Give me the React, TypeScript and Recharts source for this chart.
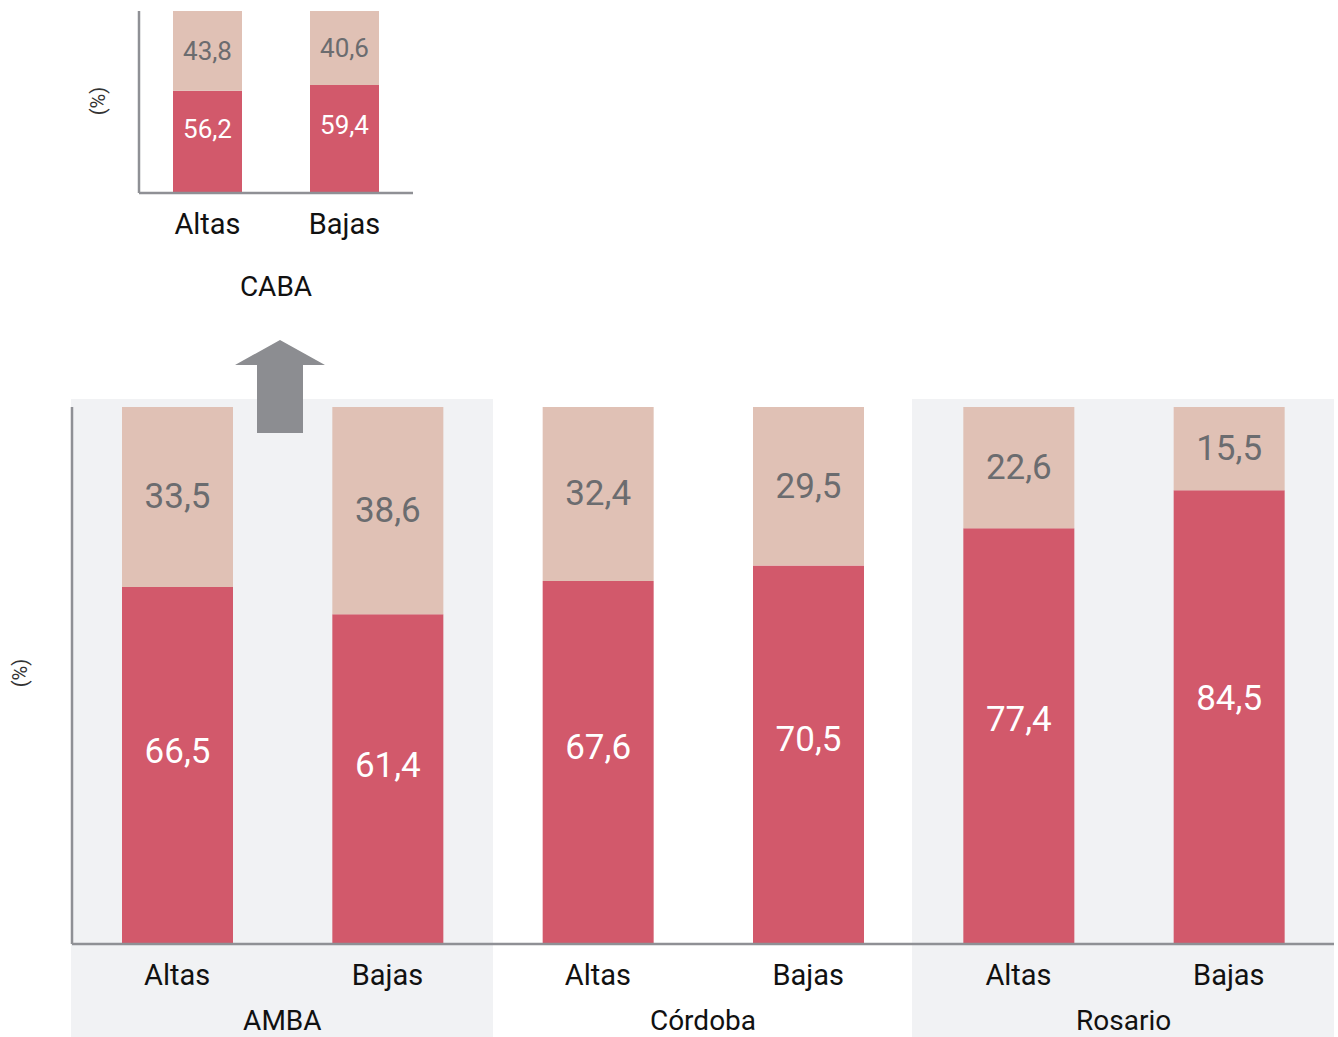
import React from 'react';
import { BarChart, Bar, XAxis, YAxis, LabelList } from 'recharts';

const categories = ['Altas', 'Bajas', 'Altas', 'Bajas', 'Altas', 'Bajas'];
const regions = ['AMBA', 'AMBA', 'Córdoba', 'Córdoba', 'Rosario', 'Rosario'];
const redValues = [66.5, 61.4, 67.6, 70.5, 77.4, 84.5];
const lightValues = [33.5, 38.6, 32.4, 29.5, 22.6, 15.5];

const cabaCategories = ['Altas', 'Bajas'];
const cabaRegion = 'CABA';
const cabaRed = [56.2, 59.4];
const cabaLight = [43.8, 40.6];

const RED = '#D2596B';
const LIGHT = '#E0C1B5';
const BG = '#F1F2F4';
const AXIS = '#8F9095';
const VALUE_GRAY = '#6B6C6F';
const FONT = 'Roboto, "Open Sans", sans-serif';

const mainData = categories.map((c, i) => ({
  key: `${regions[i]}-${c}`,
  cat: c,
  region: regions[i],
  red: redValues[i],
  light: lightValues[i],
}));

const cabaData = cabaCategories.map((c, i) => ({
  key: `${cabaRegion}-${c}`,
  cat: c,
  region: cabaRegion,
  red: cabaRed[i],
  light: cabaLight[i],
}));

const fmt = (v: any) => String(v).replace('.', ',');

// x axis keeps its default 30px height, so bottom margins are reduced by that
const MAIN_W = 1338;
const MAIN_H = 1037;
const MAIN_MARGIN = { top: 407, right: 4, bottom: 63, left: 71 };
const MAIN_BAND = (MAIN_W - 72 - MAIN_MARGIN.right) / categories.length;

const CABA_W = 420;
const CABA_H = 310;
const CABA_MARGIN = { top: 11, right: 7, bottom: 87, left: 138 };
const CABA_BAND = (CABA_W - 139 - CABA_MARGIN.right) / cabaCategories.length;

const makeTick = (rows: typeof mainData, band: number, catDy: number, groupDy: number) => (props: any) => {
  const { x, y, index } = props;
  const row = rows[index];
  const showGroup = rows.length === 2 ? index === 0 : index % 2 === 0;
  return (
    <g>
      <text x={x} y={y + catDy} textAnchor="middle" fontSize={29} fill="#111" fontFamily={FONT}>
        {row.cat}
      </text>
      {showGroup && (
        <text x={x + band / 2} y={y + groupDy} textAnchor="middle" fontSize={28} fill="#111" fontFamily={FONT}>
          {row.region}
        </text>
      )}
    </g>
  );
};

// value label placed at a fraction of the segment height
const makeValueLabel = (frac: number, color: string, size: number) => (props: any) => {
  const { x, y, width, height, value } = props;
  return (
    <text
      x={x + width / 2}
      y={y + height * frac}
      textAnchor="middle"
      dominantBaseline="central"
      fill={color}
      fontSize={size}
      fontFamily={FONT}
    >
      {fmt(value)}
    </text>
  );
};

const PctLabel: React.FC<{ left: number; top: number }> = ({ left, top }) => (
  <div
    style={{
      position: 'absolute',
      left,
      top,
      transform: 'translate(-50%, -50%) rotate(-90deg)',
      fontSize: 20,
      color: '#333',
      fontFamily: FONT,
      whiteSpace: 'nowrap',
    }}
  >
    (%)
  </div>
);

export default function App() {
  return (
    <div style={{ position: 'absolute', left: 0, top: 0, width: MAIN_W, height: MAIN_H, background: '#fff', fontFamily: FONT }}>
      {/* group background panels */}
      <div style={{ position: 'absolute', left: 71, top: 399, width: 422, height: 638, background: BG }} />
      <div style={{ position: 'absolute', left: 912, top: 399, width: 422, height: 638, background: BG }} />

      <div style={{ position: 'absolute', left: 0, top: 0 }}>
        <BarChart width={MAIN_W} height={MAIN_H} data={mainData} margin={MAIN_MARGIN}>
          <YAxis
            domain={[0, 100]}
            width={1}
            tick={false}
            tickLine={false}
            axisLine={{ stroke: AXIS, strokeWidth: 2.5 }}
          />
          <XAxis
            dataKey="key"
            interval={0}
            tickSize={0}
            tickLine={false}
            axisLine={{ stroke: AXIS, strokeWidth: 2.5 }}
            tick={makeTick(mainData, MAIN_BAND, 39, 84)}
          />
          <Bar dataKey="red" stackId="a" fill={RED} barSize={111} isAnimationActive={false}>
            <LabelList dataKey="red" content={makeValueLabel(0.46, '#fff', 35)} />
          </Bar>
          <Bar dataKey="light" stackId="a" fill={LIGHT} barSize={111} isAnimationActive={false}>
            <LabelList dataKey="light" content={makeValueLabel(0.5, VALUE_GRAY, 35)} />
          </Bar>
        </BarChart>
      </div>

      <div style={{ position: 'absolute', left: 0, top: 0 }}>
        <BarChart width={CABA_W} height={CABA_H} data={cabaData} margin={CABA_MARGIN}>
          <YAxis
            domain={[0, 100]}
            width={1}
            tick={false}
            tickLine={false}
            axisLine={{ stroke: AXIS, strokeWidth: 2.5 }}
          />
          <XAxis
            dataKey="key"
            interval={0}
            tickSize={0}
            tickLine={false}
            axisLine={{ stroke: AXIS, strokeWidth: 2.5 }}
            tick={makeTick(cabaData, CABA_BAND, 39, 101)}
          />
          <Bar dataKey="red" stackId="a" fill={RED} barSize={69} isAnimationActive={false}>
            <LabelList dataKey="red" content={makeValueLabel(0.37, '#fff', 26)} />
          </Bar>
          <Bar dataKey="light" stackId="a" fill={LIGHT} barSize={69} isAnimationActive={false}>
            <LabelList dataKey="light" content={makeValueLabel(0.5, VALUE_GRAY, 26)} />
          </Bar>
        </BarChart>
      </div>

      {/* arrow pointing from AMBA up to CABA */}
      <svg style={{ position: 'absolute', left: 0, top: 0 }} width={MAIN_W} height={MAIN_H} pointerEvents="none">
        <polygon points="235,365 280,340 325,365 303,365 303,433 257,433 257,365" fill="#8C8D91" />
      </svg>

      <PctLabel left={20} top={673} />
      <PctLabel left={98} top={101} />
    </div>
  );
}
